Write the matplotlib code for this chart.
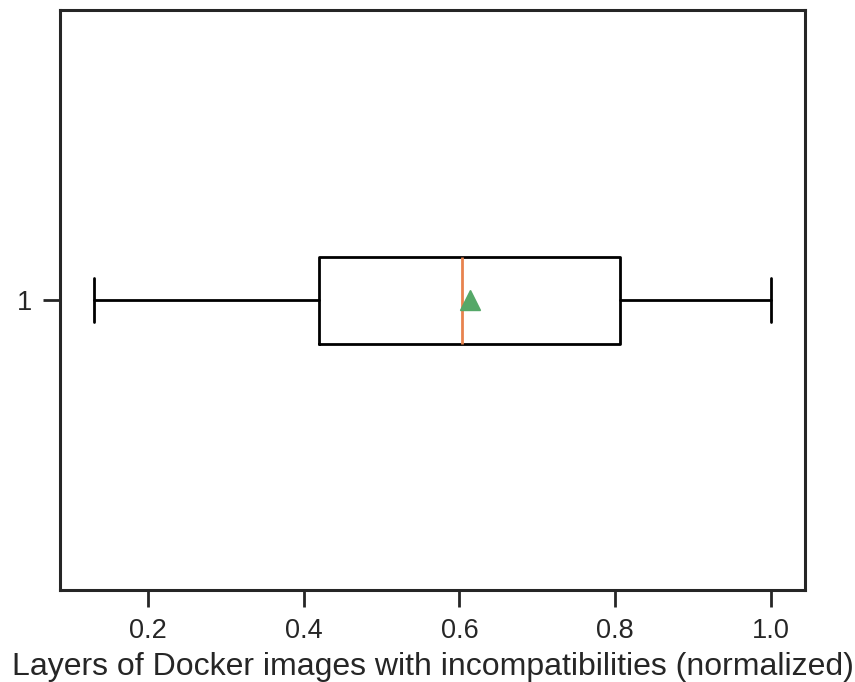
import matplotlib
matplotlib.use("Agg")
import matplotlib.pyplot as plt
import seaborn as sns

sns.set_theme(style="ticks", context="talk")
plt.rcParams['font.family'] = ['Liberation Sans', 'DejaVu Sans']

# Box statistics
labels = ["1"]
whislo = [0.131]
q1 = [0.420]
med = [0.603]
q3 = [0.806]
whishi = [1.0]
mean = [0.614]

stats = [dict(label=labels[i], whislo=whislo[i], q1=q1[i], med=med[i],
              q3=q3[i], whishi=whishi[i], mean=mean[i], fliers=[])
         for i in range(len(labels))]

fig = plt.figure(figsize=(8.55, 6.82), dpi=100)
ax = fig.add_axes([60/855, 1 - 590/682, 745/855, 580/682])
ax.bxp(stats, vert=False, showmeans=True, widths=0.15,
       boxprops=dict(color='black', linewidth=2),
       whiskerprops=dict(color='black', linewidth=2),
       capprops=dict(color='black', linewidth=2),
       medianprops=dict(color='#E8834E', linewidth=2),
       meanprops=dict(marker='^', markerfacecolor='#55A868',
                      markeredgecolor='#55A868', markersize=14))
ax.set_ylim(0.5, 1.5)
ax.set_xticks([0.2, 0.4, 0.6, 0.8, 1.0])
ax.set_xlabel("Layers of Docker images with incompatibilities (normalized)", fontsize=23, labelpad=6)
ax.tick_params(labelsize=19.5, length=12, width=2, pad=8)
for s in ax.spines.values():
    s.set_linewidth(2.2)
fig.savefig("out.png", dpi=100)
